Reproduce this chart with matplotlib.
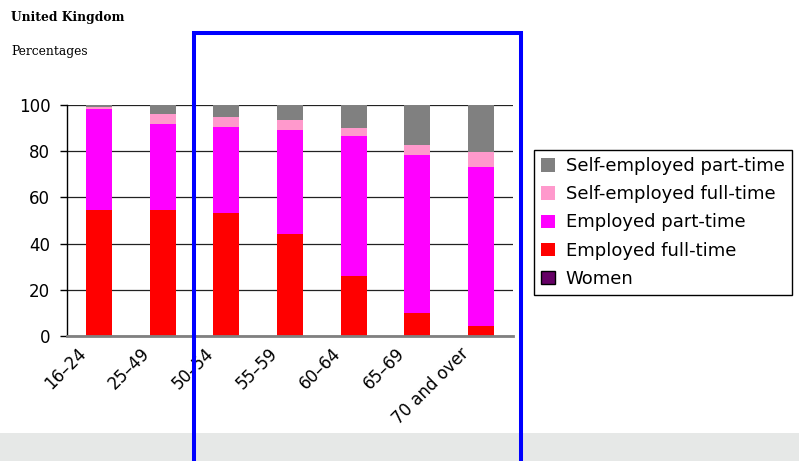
import numpy as np
import matplotlib
matplotlib.use('Agg')
import matplotlib.pyplot as plt
import matplotlib.transforms as mtrans
from matplotlib.patches import Patch, Rectangle

ages = ['16\u201324', '25\u201349', '50\u201354', '55\u201359', '60\u201364', '65\u201369', '70 and over']
emp_ft = [54.5, 54.5, 53.1, 44.2, 26.1, 10.0, 4.2]
emp_pt = [43.8, 37.3, 37.4, 45.0, 60.6, 68.4, 68.8]
self_ft = [0.7, 4.4, 4.3, 4.4, 3.2, 4.3, 6.7]
self_pt = [1.0, 3.8, 5.2, 6.4, 10.1, 17.3, 20.3]

W, H = 799, 461
fig = plt.figure(figsize=(W / 100, H / 100), dpi=100)
ax = fig.add_axes([67 / W, 1 - 336 / H, (513 - 67) / W, (336 - 105) / H])

x = np.arange(len(ages))
bw = 0.41
series = [(emp_ft, '#ff0000', 'Employed full-time'),
          (emp_pt, '#ff00ff', 'Employed part-time'),
          (self_ft, '#ff99cc', 'Self-employed full-time'),
          (self_pt, '#808080', 'Self-employed part-time')]
bottom = np.zeros(len(ages))
for vals, col, lab in series:
    ax.bar(x, vals, bw, bottom=bottom, color=col, zorder=3)
    bottom += np.array(vals)

ax.set_xlim(-0.5, len(ages) - 0.5)
ax.set_ylim(0, 100)
ax.set_yticks(range(0, 101, 20))
ax.yaxis.grid(True, color='#222222', lw=0.9)
ax.tick_params(axis='y', length=5, width=1, pad=7, labelsize=12)
ax.tick_params(axis='x', length=0, pad=6, labelsize=12)
ax.set_xticks(x)
ax.set_xticklabels(ages, rotation=45, ha='right', rotation_mode='anchor')
off = mtrans.ScaledTranslation(-22 / 100, 0, fig.dpi_scale_trans)
for lbl in ax.get_xticklabels():
    lbl.set_transform(lbl.get_transform() + off)
for s in ['top', 'right']:
    ax.spines[s].set_visible(False)
ax.spines['left'].set_linewidth(1)
ax.spines['bottom'].set_color('#808080')
ax.spines['bottom'].set_linewidth(2)
ax.spines['bottom'].set_zorder(4)

handles = [Patch(facecolor=c, edgecolor='none', label=l) for _, c, l in series[::-1]]
handles.append(Patch(facecolor='#660066', edgecolor='black', label='Women'))
fig.legend(handles=handles, loc='upper left', bbox_to_anchor=(534 / W, 1 - 150 / H),
           frameon=True, fancybox=False, edgecolor='black', framealpha=1,
           fontsize=13, handlelength=0.75, handleheight=0.75, handletextpad=0.6,
           labelspacing=0.56, borderpad=0.4, borderaxespad=0)

fig.text(11 / W, 1 - 18 / H, 'United Kingdom', family='DejaVu Serif', weight='bold',
         fontsize=8.8, va='center', ha='left')
fig.text(11 / W, 1 - 52 / H, 'Percentages', family='DejaVu Serif',
         fontsize=8.8, va='center', ha='left')

fig.patches.append(Rectangle((0, 0), 1, (H - 433) / H, transform=fig.transFigure,
                             facecolor='#e6e8e7', edgecolor='none', zorder=0))
fig.patches.append(Rectangle((194 / W, -0.1), (521 - 194) / W, 0.1 + 1 - 33 / H,
                             transform=fig.transFigure, facecolor='none',
                             edgecolor='#0000ff', lw=2.9, zorder=10))

fig.savefig('out.png', dpi=100)
